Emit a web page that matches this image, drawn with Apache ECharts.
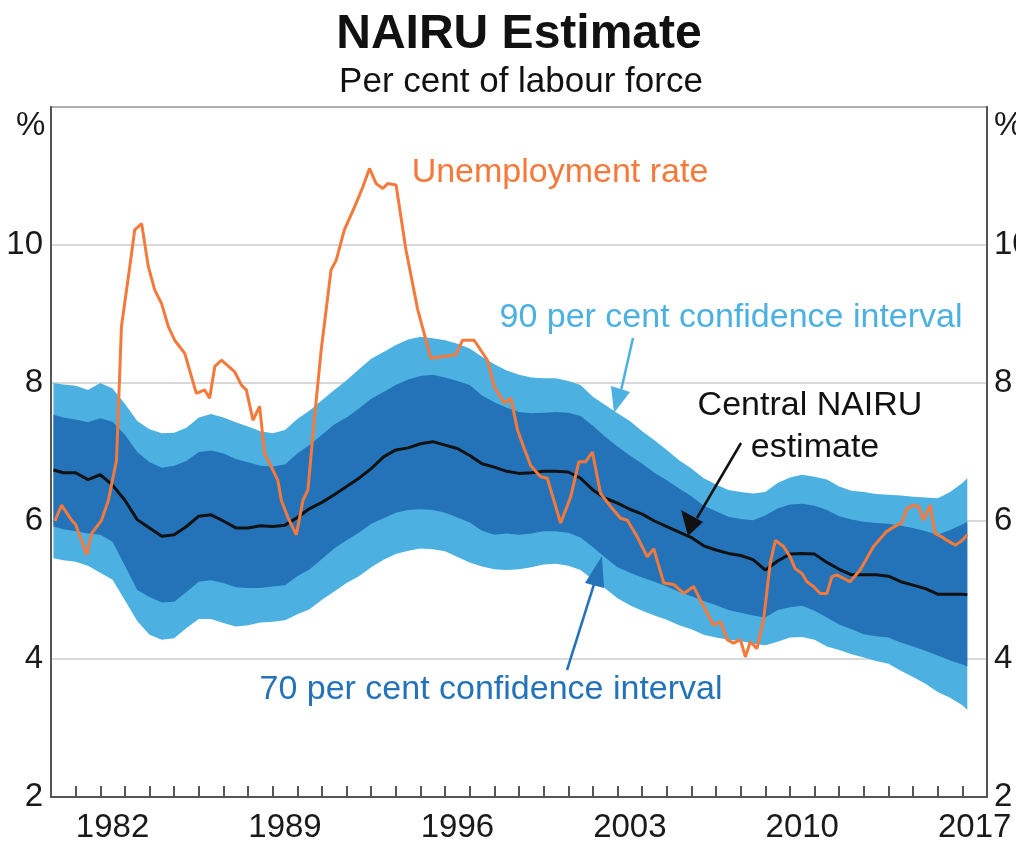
<!DOCTYPE html>
<html>
<head>
<meta charset="utf-8">
<script src="https://cdn.jsdelivr.net/npm/echarts@6/dist/echarts.min.js"></script>
<style>
  html, body { margin: 0; padding: 0; background: #fff; }
  #container { width: 1016px; height: 848px; }
</style>
</head>
<body>
<div id="container"></div>
<script>
// band readings (half-yearly)
var bandYears = [1980.1, 1980.5, 1981.0, 1981.5, 1982.0, 1982.5, 1983.0, 1983.5, 1984.0, 1984.5,
	1985.0, 1985.5, 1986.0, 1986.5, 1987.0, 1987.5, 1988.0, 1988.5, 1989.0, 1989.5,
	1990.0, 1990.5, 1991.0, 1991.5, 1992.0, 1992.5, 1993.0, 1993.5, 1994.0, 1994.5,
	1995.0, 1995.5, 1996.0, 1996.5, 1997.0, 1997.5, 1998.0, 1998.5, 1999.0, 1999.5,
	2000.0, 2000.5, 2001.0, 2001.5, 2002.0, 2002.5, 2003.0, 2003.5, 2004.0, 2004.5,
	2005.0, 2005.5, 2006.0, 2006.5, 2007.0, 2007.5, 2008.0, 2008.5, 2009.0, 2009.5,
	2010.0, 2010.5, 2011.0, 2011.5, 2012.0, 2012.5, 2013.0, 2013.5, 2014.0, 2014.5,
	2015.0, 2015.5, 2016.0, 2016.5, 2017.0, 2017.2];

var upper90 = [8.00, 7.98, 7.96, 7.90, 8.00, 7.92, 7.70, 7.45, 7.33, 7.27,
	7.28, 7.35, 7.50, 7.55, 7.50, 7.43, 7.37, 7.30, 7.27, 7.32,
	7.48, 7.60, 7.75, 7.90, 8.04, 8.20, 8.35, 8.45, 8.55, 8.63,
	8.67, 8.65, 8.62, 8.57, 8.50, 8.38, 8.27, 8.18, 8.12, 8.08,
	8.07, 8.07, 8.03, 7.97, 7.80, 7.68, 7.56, 7.45, 7.30, 7.17,
	7.03, 6.88, 6.76, 6.62, 6.53, 6.45, 6.42, 6.40, 6.42, 6.55,
	6.63, 6.67, 6.64, 6.60, 6.50, 6.44, 6.42, 6.39, 6.38, 6.37,
	6.35, 6.34, 6.33, 6.42, 6.55, 6.62];

var upper70 = [7.54, 7.50, 7.47, 7.43, 7.49, 7.44, 7.25, 7.00, 6.85, 6.77,
	6.80, 6.87, 7.00, 7.02, 6.98, 6.90, 6.85, 6.80, 6.79, 6.82,
	6.98, 7.10, 7.25, 7.40, 7.50, 7.63, 7.77, 7.87, 7.97, 8.05,
	8.10, 8.12, 8.08, 8.03, 7.97, 7.82, 7.72, 7.64, 7.58, 7.56,
	7.57, 7.58, 7.57, 7.52, 7.38, 7.22, 7.08, 6.95, 6.83, 6.70,
	6.59, 6.47, 6.36, 6.22, 6.14, 6.06, 6.03, 6.01, 6.08, 6.18,
	6.24, 6.25, 6.22, 6.16, 6.07, 6.02, 5.99, 5.97, 5.96, 5.93,
	5.90, 5.85, 5.80, 5.87, 5.95, 5.99];

var central = [6.74, 6.70, 6.70, 6.60, 6.67, 6.52, 6.30, 6.02, 5.90, 5.78,
	5.80, 5.92, 6.07, 6.09, 6.00, 5.90, 5.90, 5.93, 5.92, 5.94,
	6.05, 6.18, 6.27, 6.38, 6.50, 6.62, 6.76, 6.93, 7.03, 7.06,
	7.12, 7.15, 7.10, 7.05, 6.95, 6.83, 6.78, 6.72, 6.69, 6.70,
	6.72, 6.72, 6.71, 6.62, 6.45, 6.33, 6.26, 6.17, 6.10, 6.00,
	5.92, 5.84, 5.76, 5.64, 5.58, 5.53, 5.50, 5.44, 5.29, 5.42,
	5.52, 5.53, 5.52, 5.40, 5.30, 5.22, 5.22, 5.22, 5.20, 5.12,
	5.07, 5.02, 4.94, 4.94, 4.94, 4.93];

var lower70 = [5.92, 5.88, 5.85, 5.82, 5.80, 5.70, 5.35, 5.00, 4.90, 4.82,
	4.83, 4.97, 5.12, 5.14, 5.10, 5.04, 5.03, 5.03, 5.05, 5.07,
	5.20, 5.30, 5.45, 5.60, 5.72, 5.83, 5.96, 6.04, 6.12, 6.16,
	6.17, 6.16, 6.12, 6.05, 5.98, 5.86, 5.80, 5.82, 5.80, 5.82,
	5.85, 5.85, 5.83, 5.76, 5.62, 5.47, 5.33, 5.25, 5.18, 5.12,
	5.05, 4.97, 4.91, 4.84, 4.78, 4.71, 4.67, 4.63, 4.60, 4.71,
	4.75, 4.77, 4.70, 4.60, 4.50, 4.43, 4.36, 4.33, 4.31, 4.24,
	4.18, 4.12, 4.05, 3.98, 3.92, 3.89];

var lower90 = [5.46, 5.43, 5.41, 5.35, 5.25, 5.15, 4.85, 4.55, 4.35, 4.28,
	4.30, 4.45, 4.58, 4.58, 4.52, 4.47, 4.49, 4.53, 4.54, 4.56,
	4.65, 4.72, 4.86, 4.98, 5.10, 5.20, 5.33, 5.44, 5.52, 5.57,
	5.60, 5.59, 5.56, 5.48, 5.40, 5.34, 5.30, 5.29, 5.30, 5.33,
	5.37, 5.38, 5.35, 5.29, 5.15, 5.02, 4.88, 4.78, 4.70, 4.63,
	4.57, 4.49, 4.43, 4.35, 4.31, 4.28, 4.26, 4.22, 4.20, 4.25,
	4.31, 4.32, 4.28, 4.18, 4.13, 4.07, 4.02, 3.97, 3.93, 3.83,
	3.74, 3.64, 3.52, 3.44, 3.33, 3.26];

// unemployment rate readings
var urYears = [1980.16, 1980.43, 1980.84, 1981.0, 1981.45, 1981.65, 1982.05, 1982.33, 1982.66, 1982.86,
	1983.2, 1983.4, 1983.68, 1983.95, 1984.21, 1984.49, 1984.76, 1985.02, 1985.43, 1985.9,
	1986.24, 1986.44, 1986.65, 1986.92, 1987.46, 1987.73, 1987.93, 1988.2, 1988.47, 1988.67,
	1988.94, 1989.21, 1989.35, 1989.62, 1989.96, 1990.23, 1990.43, 1990.7, 1990.97, 1991.37,
	1991.58, 1991.91, 1992.32, 1992.66, 1992.93, 1993.2, 1993.47, 1993.67, 1994.01, 1994.41,
	1994.89, 1995.15, 1995.42, 1995.83, 1996.44, 1996.71, 1997.18, 1997.72, 1997.99, 1998.4,
	1998.67, 1998.94, 1999.21, 1999.48, 1999.88, 2000.15, 2000.69, 2001.1, 2001.43, 2001.71,
	2001.98, 2002.31, 2002.72, 2003.12, 2003.4, 2003.8, 2004.21, 2004.47, 2004.88, 2005.28,
	2005.69, 2006.09, 2006.5, 2006.9, 2007.18, 2007.45, 2007.71, 2007.99, 2008.19, 2008.39,
	2008.66, 2008.93, 2009.2, 2009.41, 2009.74, 2010.01, 2010.21, 2010.49, 2010.69, 2010.96,
	2011.23, 2011.5, 2011.7, 2011.9, 2012.17, 2012.44, 2012.85, 2013.39, 2013.93, 2014.34,
	2014.54, 2014.75, 2015.01, 2015.22, 2015.42, 2015.69, 2015.89, 2016.16, 2016.46, 2016.73,
	2017.0, 2017.2];

var urValues = [6.00, 6.23, 6.01, 5.95, 5.51, 5.82, 6.01, 6.30, 6.88, 8.82,
	9.69, 10.22, 10.31, 9.69, 9.35, 9.15, 8.82, 8.62, 8.43, 7.85,
	7.90, 7.78, 8.24, 8.33, 8.16, 7.97, 7.90, 7.46, 7.66, 6.98,
	6.79, 6.59, 6.30, 6.05, 5.80, 6.30, 6.45, 7.51, 8.48, 9.64,
	9.78, 10.22, 10.55, 10.84, 11.11, 10.89, 10.82, 10.89, 10.87, 9.93,
	9.06, 8.72, 8.36, 8.38, 8.41, 8.62, 8.62, 8.33, 7.95, 7.71,
	7.78, 7.32, 7.05, 6.80, 6.64, 6.62, 5.97, 6.35, 6.86, 6.86,
	7.00, 6.40, 6.21, 6.04, 6.01, 5.77, 5.48, 5.60, 5.10, 5.08,
	4.95, 5.05, 4.76, 4.49, 4.54, 4.28, 4.23, 4.28, 4.03, 4.25,
	4.15, 4.57, 5.39, 5.72, 5.63, 5.48, 5.31, 5.24, 5.12, 5.05,
	4.95, 4.95, 5.19, 5.22, 5.17, 5.12, 5.29, 5.63, 5.85, 5.94,
	5.97, 6.18, 6.23, 6.21, 6.01, 6.23, 5.82, 5.77, 5.70, 5.65,
	5.72, 5.80];

// axis
var yearCats = [];
for (var y = 1980; y <= 2017; y++) yearCats.push(String(y));
var labelYears = ['1982', '1989', '1996', '2003', '2010', '2017'];

var dom = document.getElementById("container");
var myChart = echarts.init(dom);

var FONT = 'Liberation Sans, Arial, Helvetica, sans-serif';
var LIGHT = '#4cb1e1';
var DARK = '#2473b9';
var ORANGE = '#f5793a';
var FRAME = '#555';

function pairs(xs, ys) {
	return xs.map(function (x, i) { return [x, ys[i]]; });
}

// band polygon: upper edge left to right, lower edge back
function bandSeries(name, upper, lower, color, z) {
	return {
		name: name, type: 'custom', silent: true, z: z,
		data: pairs(bandYears, upper).concat(pairs(bandYears, lower)),
		encode: { x: 0, y: 1 },
		renderItem: function (params, api) {
			if (params.dataIndex !== 0) return;
			var pts = [];
			for (var i = 0; i < bandYears.length; i++) {
				pts.push(api.coord([bandYears[i], upper[i]]));
			}
			for (var j = bandYears.length - 1; j >= 0; j--) {
				pts.push(api.coord([bandYears[j], lower[j]]));
			}
			return { type: 'polygon', shape: { points: pts }, style: { fill: color, stroke: null } };
		}
	};
}

var option = {
	animation: false,
	textStyle: { fontFamily: FONT },
	title: [
		{
			text: 'NAIRU Estimate', left: 514, top: 6, textAlign: 'center',
			textStyle: { fontSize: 48, fontWeight: 'bold', color: '#111', fontFamily: FONT }
		},
		{
			text: 'Per cent of labour force', left: 516, top: 60, textAlign: 'center',
			textStyle: { fontSize: 35, fontWeight: 'normal', color: '#111', fontFamily: FONT }
		}
	],
	grid: {
		left: 51, right: 29, top: 107, bottom: 51,
		containLabel: false, outerBoundsMode: 'none',
		show: true, borderColor: FRAME, borderWidth: 2, backgroundColor: 'transparent'
	},
	xAxis: [
		{
			type: 'value', min: 1980, max: 2018,
			axisLine: { show: false }, axisTick: { show: false },
			axisLabel: { show: false }, splitLine: { show: false }
		},
		{
			type: 'category', data: yearCats, boundaryGap: true, position: 'bottom',
			axisLine: { show: true, lineStyle: { color: FRAME, width: 2 } },
			axisTick: { show: true, inside: true, length: 11, interval: 0, lineStyle: { color: FRAME, width: 2 } },
			axisLabel: {
				interval: function (index, value) { return labelYears.indexOf(value) >= 0; },
				fontSize: 33, color: '#1a1a1a', margin: 14, fontFamily: FONT,
				hideOverlap: false
			},
			splitLine: { show: false }
		}
	],
	yAxis: [
		{
			type: 'value', min: 2, max: 12, interval: 2, position: 'left',
			axisLine: { show: true, lineStyle: { color: FRAME, width: 2 } },
			axisTick: { show: false },
			axisLabel: {
				fontSize: 33, color: '#1a1a1a', margin: 8, fontFamily: FONT,
				formatter: function (v) { return v === 12 ? '' : String(v); }
			},
			splitLine: { show: true, lineStyle: { color: '#cccccc', width: 1.5 } }
		},
		{
			type: 'value', min: 2, max: 12, interval: 2, position: 'right',
			axisLine: { show: true, lineStyle: { color: FRAME, width: 2 } },
			axisTick: { show: false },
			axisLabel: {
				fontSize: 33, color: '#1a1a1a', margin: 7, fontFamily: FONT,
				formatter: function (v) { return v === 12 ? '' : String(v); }
			},
			splitLine: { show: false }
		}
	],
	graphic: [
		{ type: 'text', left: 16, top: 109, style: { text: '%', font: '33px ' + FONT, fill: '#1a1a1a' } },
		{ type: 'text', left: 994, top: 109, style: { text: '%', font: '33px ' + FONT, fill: '#1a1a1a' } },

		{ type: 'text', style: { text: 'Unemployment rate', x: 560, y: 173, textAlign: 'center', textVerticalAlign: 'middle', font: '34px ' + FONT, fill: ORANGE } },
		{ type: 'text', style: { text: '90 per cent confidence interval', x: 731, y: 318, textAlign: 'center', textVerticalAlign: 'middle', font: '34px ' + FONT, fill: LIGHT } },
		{ type: 'text', style: { text: 'Central NAIRU', x: 810, y: 406, textAlign: 'center', textVerticalAlign: 'middle', font: '34px ' + FONT, fill: '#111' } },
		{ type: 'text', style: { text: 'estimate', x: 815, y: 448, textAlign: 'center', textVerticalAlign: 'middle', font: '34px ' + FONT, fill: '#111' } },
		{ type: 'text', style: { text: '70 per cent confidence interval', x: 491, y: 690, textAlign: 'center', textVerticalAlign: 'middle', font: '34px ' + FONT, fill: DARK } },

		// arrows
		{ type: 'line', z: 100, shape: { x1: 633, y1: 338, x2: 620, y2: 395 }, style: { stroke: LIGHT, lineWidth: 2.5 } },
		{ type: 'polygon', z: 100, shape: { points: [[614, 413], [611, 386], [630, 392]] }, style: { fill: LIGHT } },
		{ type: 'line', z: 100, shape: { x1: 741, y1: 443, x2: 697, y2: 518 }, style: { stroke: '#111', lineWidth: 2.5 } },
		{ type: 'polygon', z: 100, shape: { points: [[688, 536], [681, 510], [703, 522]] }, style: { fill: '#111' } },
		{ type: 'line', z: 100, shape: { x1: 567, y1: 670, x2: 596, y2: 578 }, style: { stroke: DARK, lineWidth: 2.5 } },
		{ type: 'polygon', z: 100, shape: { points: [[602, 556], [585, 583], [604, 588]] }, style: { fill: DARK } }
	],
	series: [
		bandSeries('90 per cent confidence interval', upper90, lower90, LIGHT, 1),
		bandSeries('70 per cent confidence interval', upper70, lower70, DARK, 2),
		{
			name: 'Central NAIRU estimate', type: 'line', data: pairs(bandYears, central),
			symbol: 'none', lineStyle: { color: '#111', width: 3 }, z: 5
		},
		{
			name: 'Unemployment rate', type: 'line', data: pairs(urYears, urValues),
			symbol: 'none', lineStyle: { color: ORANGE, width: 3 }, z: 6
		}
	]
};

myChart.setOption(option, true);
</script>
</body>
</html>
